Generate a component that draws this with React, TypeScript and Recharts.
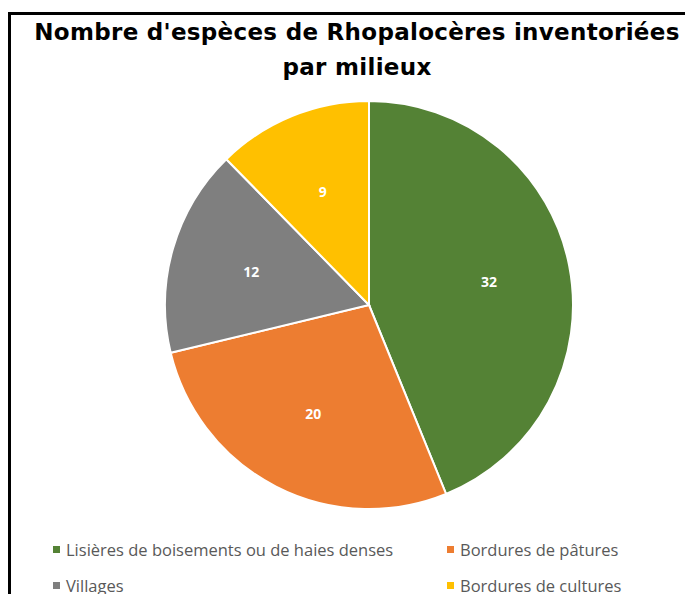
import { PieChart, Pie, Cell, Legend } from "recharts";

const milieux = [
  "Lisières de boisements ou de haies denses",
  "Bordures de pâtures",
  "Villages",
  "Bordures de cultures",
];
const especes = [32, 20, 12, 9];
const couleurs = ["#548235", "#ED7D31", "#7F7F7F", "#FFC000"];

const titre = ["Nombre d'espèces de Rhopalocères inventoriées", "par milieux"];

const data = milieux.map((name, i) => ({ name, value: especes[i] }));

const RAD = Math.PI / 180;

function renderLabel(props: any) {
  const { cx, cy, midAngle, outerRadius, value } = props;
  const r = outerRadius * 0.6;
  const x = cx + r * Math.cos(-midAngle * RAD);
  const y = cy + r * Math.sin(-midAngle * RAD);
  return (
    <text
      x={x}
      y={y}
      fill="#ffffff"
      textAnchor="middle"
      dominantBaseline="central"
      fontSize={14}
      fontWeight="bold"
      fontFamily="'Open Sans', sans-serif"
    >
      {value}
    </text>
  );
}

// legend in two columns, like the Excel one (order taken from the data)
function LegendBox() {
  return (
    <div style={{ position: "relative", width: 682, height: 60 }}>
      {milieux.map((name, i) => (
        <div
          key={name}
          style={{
            position: "absolute",
            left: i % 2 === 0 ? 42 : 436,
            top: i < 2 ? 0 : 36,
            display: "flex",
            alignItems: "center",
            fontFamily: "'Open Sans', sans-serif",
            fontSize: 16.5,
            color: "#595959",
            whiteSpace: "nowrap",
          }}
        >
          <span
            style={{
              display: "inline-block",
              width: 7,
              height: 7,
              background: couleurs[i],
              marginRight: 6,
            }}
          />
          {name}
        </div>
      ))}
    </div>
  );
}

export default function App() {
  return (
    <div style={{ paddingTop: 4 }}>
      <div
        style={{
          position: "relative",
          width: 682,
          height: 579,
          borderTop: "3px solid #000",
          borderLeft: "3px solid #000",
          background: "#fff",
        }}
      >
        <div
          style={{
            position: "absolute",
            left: 0,
            top: 0,
            width: 692,
            textAlign: "center",
            fontFamily: "'DejaVu Sans', sans-serif",
            fontWeight: "bold",
            fontSize: 23,
            letterSpacing: 0.3,
            lineHeight: "35px",
            color: "#000",
          }}
        >
          {titre.map((t) => (
            <div key={t}>{t}</div>
          ))}
        </div>
        <PieChart width={682} height={579} margin={{ top: 0, right: 0, bottom: 0, left: 0 }}>
          <Pie
            data={data}
            dataKey="value"
            nameKey="name"
            cx={358}
            cy={290}
            outerRadius={204}
            startAngle={90}
            endAngle={-270}
            stroke="#ffffff"
            strokeWidth={2}
            label={renderLabel}
            labelLine={false}
            isAnimationActive={false}
          >
            {data.map((d, i) => (
              <Cell key={d.name} fill={couleurs[i]} />
            ))}
          </Pie>
          <Legend
            content={<LegendBox />}
            wrapperStyle={{ position: "absolute", left: 0, top: 523, width: 682 }}
          />
        </PieChart>
      </div>
    </div>
  );
}
